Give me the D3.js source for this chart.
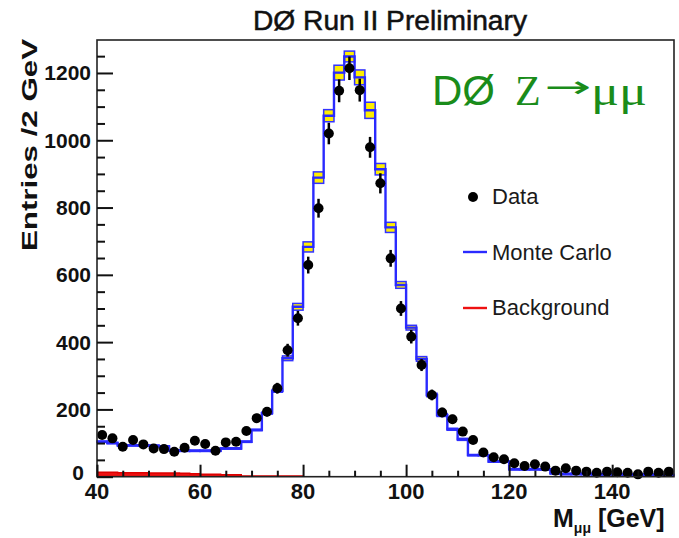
<!DOCTYPE html>
<html><head><meta charset="utf-8">
<script src="https://cdn.jsdelivr.net/npm/d3@7"></script>
<style>body{margin:0;background:#fff}svg{display:block}</style>
</head><body>
<svg id="c" width="679" height="538"></svg>
<script>
const binCenters = [41,43,45,47,49,51,53,55,57,59,61,63,65,67,69,71,73,75,77,79,81,83,85,87,89,91,93,95,97,99,101,103,105,107,109,111,113,115,117,119,121,123,125,127,129,131,133,135,137,139,141,143,145,147,149,151];
const dataValues = [124,114,89,109,96,84,82,74,86,107,97,77,102,104,136,174,193,263,376,471,629,798,1020,1147,1214,1149,979,872,649,500,416,332,243,191,171,134,109,72,58,52,40,32,37,30,18,25,18,15,12,15,13,12,7,15,12,15];
const dataErrors = [11,11,9,10,10,9,9,9,9,10,10,9,10,10,12,13,14,16,19,22,25,28,32,34,35,34,31,30,25,22,20,18,16,14,13,12,10,8,8,7,6,6,6,5,4,5,4,4,3,4,4,3,3,4,3,4];
const mcValues = [104,100,93,93,93,92,90,78,77,77,77,77,84,84,104,139,189,255,352,505,683,889,1073,1201,1249,1187,1089,914,741,570,443,350,243,183,141,111,64,64,45,45,22,22,22,22,10,8,8,8,7,7,7,6,6,6,5,5];
const mcErrors = [2,2,2,2,2,2,2,2,2,2,2,2,2,2,2,2,3,4,7,10,15,17,18,22,16,22,24,17,15,10,7,7,5,4,3,3,2,2,2,2,2,2,2,2,2,2,2,2,2,2,2,2,2,2,2,2];
const bgValues = [13,13,12,12,12,11,11,11,10,9,7,7,6,6,2,2,2,2,2,2,0,0,0,0,0,0,0,0,0,0,0,0,0,0,0,0,0,0,0,0,0,0,0,0,0,0,0,0,0,0,0,0,0,0,0,0];
const xTickValues = [40,60,80,100,120,140];
const yTickValues = [0,200,400,600,800,1000,1200];
const binWidth = 2;

const svg = d3.select("#c");
const L = 97, R = 674, T = 40, B = 476.7;
const x = d3.scaleLinear().domain([40,152]).range([L,R]);
const y = d3.scaleLinear().domain([0,1298]).range([B,T]);

const g = svg.append("g");

// MC error band boxes
g.selectAll("rect.band").data(binCenters).enter().append("rect")
  .attr("x", (d)=>x(d-binWidth/2))
  .attr("width", x(binWidth)-x(0))
  .attr("y", (d,i)=>y(mcValues[i]+mcErrors[i]))
  .attr("height", (d,i)=>y(mcValues[i]-mcErrors[i])-y(mcValues[i]+mcErrors[i]))
  .attr("fill", "#ffee00")
  .attr("stroke", "#3333ff").attr("stroke-width", 1.5);
g.selectAll("line.mid").data(binCenters).enter().append("line")
  .attr("x1", (d)=>x(d-binWidth/2)+1).attr("x2", (d)=>x(d+binWidth/2)-1)
  .attr("y1", (d,i)=>y(mcValues[i])).attr("y2", (d,i)=>y(mcValues[i]))
  .attr("stroke", "#555").attr("stroke-width", 1.2);

function stepPath(vals){
  const pts = [];
  binCenters.forEach((c,i)=>{
    pts.push([x(c-binWidth/2), y(vals[i])]);
    pts.push([x(c+binWidth/2), y(vals[i])]);
  });
  return d3.line()(pts);
}

// Background (red)
const bgArea = d3.area().x(d=>d[0]).y0(y(0)).y1(d=>d[1]);
const bgPts = [];
binCenters.forEach((c,i)=>{ if(bgValues[i]>0){ bgPts.push([x(c-binWidth/2), y(bgValues[i])]); bgPts.push([x(c+binWidth/2), y(bgValues[i])]); }});
g.append("path").attr("d", bgArea(bgPts)).attr("fill", "#ee1111");
g.append("path").attr("d", d3.line()(bgPts)).attr("fill","none").attr("stroke","#dd0000").attr("stroke-width",1.5);

// MC histogram (blue)
g.append("path").attr("d", stepPath(mcValues))
  .attr("fill","none").attr("stroke","#2a2aff").attr("stroke-width",2.4);

// Data error bars and points
g.selectAll("line.err").data(binCenters).enter().append("line")
  .attr("x1", d=>x(d)).attr("x2", d=>x(d))
  .attr("y1", (d,i)=>y(dataValues[i]+dataErrors[i]))
  .attr("y2", (d,i)=>y(Math.max(0,dataValues[i]-dataErrors[i])))
  .attr("stroke","#000").attr("stroke-width",2.5);
g.selectAll("circle.pt").data(binCenters).enter().append("circle")
  .attr("cx", d=>x(d)).attr("cy", (d,i)=>y(dataValues[i]))
  .attr("r", 5).attr("fill","#000");

// Frame
svg.append("rect").attr("x",L).attr("y",T).attr("width",R-L).attr("height",B-T)
  .attr("fill","none").attr("stroke","#222").attr("stroke-width",1.6);

// Y ticks (inward)
const yAxis = d3.axisRight(y).tickValues(yTickValues).tickSize(16).tickFormat("");
svg.append("g").attr("transform",`translate(${L},0)`).call(yAxis)
  .call(s=>s.select(".domain").remove())
  .call(s=>s.selectAll("line").attr("stroke","#111").attr("stroke-width",2));
const yMinor = d3.axisRight(y).tickValues(d3.range(0,1300,50).filter(v=>v%200!==0)).tickSize(8).tickFormat("");
svg.append("g").attr("transform",`translate(${L},0)`).call(yMinor)
  .call(s=>s.select(".domain").remove())
  .call(s=>s.selectAll("line").attr("stroke","#111").attr("stroke-width",2));
svg.append("g").selectAll("text").data(yTickValues).enter().append("text")
  .attr("x", d=>d===0 ? L-13 : L-6).attr("y", d=>d===0 ? y(d)+3 : y(d)+7.5)
  .attr("text-anchor","end")
  .attr("font-family","'Liberation Sans', Arial, sans-serif").attr("font-weight","bold")
  .attr("font-size",21).attr("fill","#111").text(d=>d);

// X ticks (inward)
const xAxis = d3.axisTop(x).tickValues(xTickValues).tickSize(12).tickFormat("");
svg.append("g").attr("transform",`translate(0,${B})`).call(xAxis)
  .call(s=>s.select(".domain").remove())
  .call(s=>s.selectAll("line").attr("stroke","#111").attr("stroke-width",2));
const xMinor = d3.axisTop(x).tickValues(d3.range(45,152,5).filter(v=>v%20!==0)).tickSize(6).tickFormat("");
svg.append("g").attr("transform",`translate(0,${B})`).call(xMinor)
  .call(s=>s.select(".domain").remove())
  .call(s=>s.selectAll("line").attr("stroke","#111").attr("stroke-width",2));
svg.append("g").selectAll("text").data(xTickValues).enter().append("text")
  .attr("x", d=>x(d)).attr("y", 499)
  .attr("text-anchor","middle")
  .attr("font-family","'Liberation Sans', Arial, sans-serif").attr("font-weight","bold")
  .attr("font-size",22).attr("fill","#111").text(d=>d);

// Axis titles
svg.append("text").attr("transform","translate(37,145) rotate(-90)")
  .attr("text-anchor","middle")
  .attr("font-family","'Liberation Sans', Arial, sans-serif").attr("font-weight","bold")
  .attr("font-size",22).attr("fill","#111")
  .attr("textLength",212).attr("lengthAdjust","spacingAndGlyphs")
  .text("Entries /2 GeV");
const xt = svg.append("text").attr("x",553).attr("y",527)
  .attr("font-family","'Liberation Sans', Arial, sans-serif").attr("font-weight","bold")
  .attr("font-size",25).attr("fill","#111");
xt.append("tspan").text("M");
xt.append("tspan").attr("font-size",14).attr("dy",6).text("μμ");
xt.append("tspan").attr("dy",-6).text(" [GeV]");

// Title
svg.append("text").attr("x",390).attr("y",30).attr("text-anchor","middle")
  .attr("font-family","'Liberation Sans', Arial, sans-serif")
  .attr("font-size",27).attr("fill","#111").attr("stroke","#111").attr("stroke-width",0.5)
  .attr("textLength",274).attr("lengthAdjust","spacingAndGlyphs")
  .text("DØ Run II Preliminary");

// Green label
const green = "#1a8c1a";
svg.append("text").attr("x",432).attr("y",105)
  .attr("font-family","'Liberation Sans', Arial, sans-serif")
  .attr("font-size",42).attr("fill",green)
  .attr("textLength",63).attr("lengthAdjust","spacingAndGlyphs").text("DØ");
svg.append("text").attr("x",515).attr("y",105)
  .attr("font-family","'Liberation Serif', 'Times New Roman', serif")
  .attr("font-size",42).attr("fill",green).text("Z");
svg.append("text").attr("x",544).attr("y",97)
  .attr("font-family","'DejaVu Sans', sans-serif")
  .attr("font-size",30).attr("fill",green)
  .attr("textLength",47).attr("lengthAdjust","spacingAndGlyphs").text("→");
svg.append("text").attr("x",591).attr("y",105)
  .attr("font-family","'Liberation Serif', 'Times New Roman', serif")
  .attr("font-size",42).attr("fill",green)
  .attr("textLength",56).attr("lengthAdjust","spacingAndGlyphs").text("μμ");

// Legend
const legFont = "'Liberation Sans', Arial, sans-serif";
svg.append("circle").attr("cx",473).attr("cy",197).attr("r",5).attr("fill","#000");
svg.append("text").attr("x",492).attr("y",204).attr("font-family",legFont).attr("font-size",22).attr("fill","#1a1a1a").text("Data");
svg.append("line").attr("x1",463).attr("x2",487).attr("y1",252).attr("y2",252).attr("stroke","#2a2aff").attr("stroke-width",2.4);
svg.append("text").attr("x",492).attr("y",259.5).attr("font-family",legFont).attr("font-size",22).attr("fill","#1a1a1a").text("Monte Carlo");
svg.append("line").attr("x1",463).attr("x2",487).attr("y1",308).attr("y2",308).attr("stroke","#ee1111").attr("stroke-width",2.4);
svg.append("text").attr("x",492).attr("y",315).attr("font-family",legFont).attr("font-size",22).attr("fill","#1a1a1a").text("Background");
</script>
</body></html>
